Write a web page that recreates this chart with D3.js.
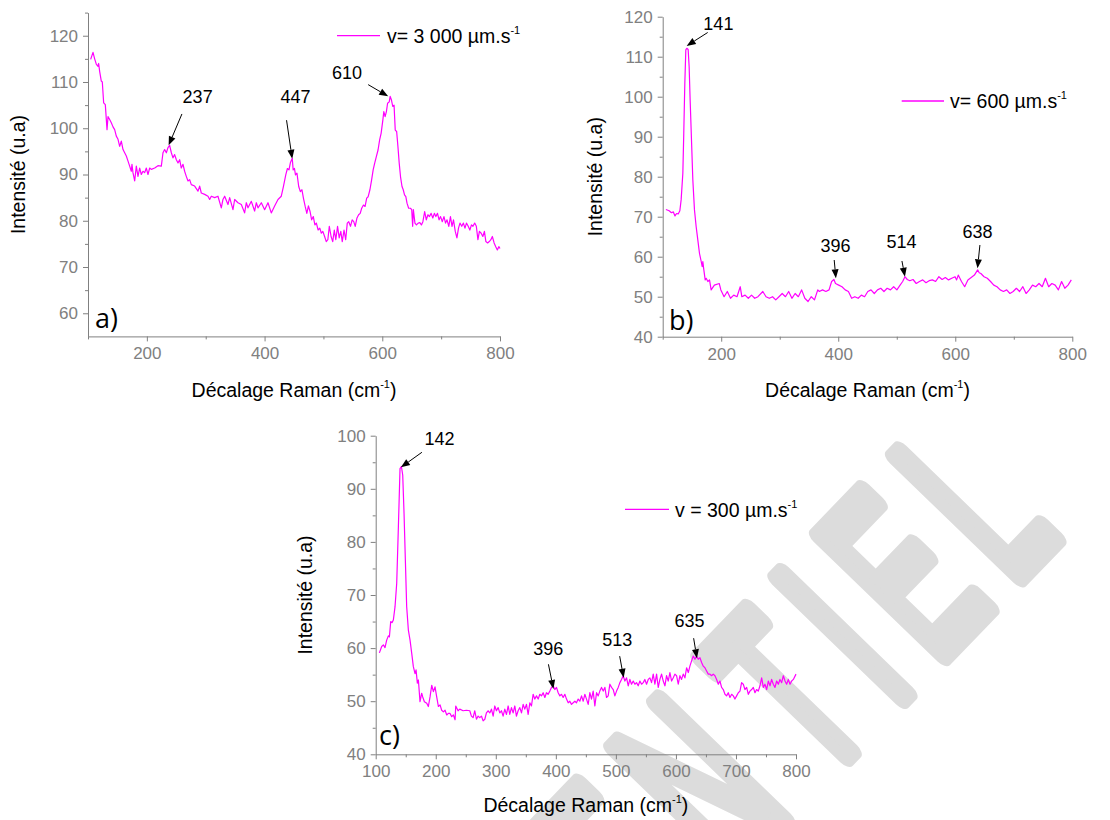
<!DOCTYPE html>
<html><head><meta charset="utf-8">
<script src="https://cdn.jsdelivr.net/npm/d3@7"></script>
<style>
body{margin:0;background:#fff;}
svg{display:block;font-family:"Liberation Sans",Arial,sans-serif;}
</style></head><body>
<svg id="chart" width="1110" height="820"></svg>
<script>
// ---------------- DATA ----------------
// Panel a) v = 3 000 µm/s
const shiftA = [104.5,108.5,111.3,114.2,117.0,118.1,119.8,122.6,124.3,126.6,
129.4,132.3,134.0,136.8,139.6,142.5,145.3,148.1,151.0,153.8,
156.6,159.5,162.3,165.1,168.0,170.8,173.6,174.7,176.4,179.3,
182.1,184.9,187.8,190.6,193.4,196.3,199.1,201.9,204.8,207.6,
213.3,218.9,224.6,227.4,230.2,233.1,235.9,238.7,241.6,244.4,
247.2,250.1,252.9,255.7,258.5,261.4,264.2,267.0,269.9,272.7,
275.5,281.2,286.9,289.7,292.5,298.2,303.9,306.7,309.5,315.2,
320.8,326.5,329.3,332.2,337.8,340.7,346.3,349.2,354.8,360.5,
366.1,369.0,371.8,377.5,383.1,386.0,388.8,394.5,400.1,405.8,
411.4,417.1,422.8,428.4,
432.0,436.0,438.8,441.5,444.0,447.0,448.6,450.8,452.5,455.0,
458.0,460.8,463.5,466.0,469.0,471.8,474.5,477.3,480.0,482.8,
485.5,488.0,491.0,493.8,496.5,499.0,502.0,504.8,507.5,510.0,
513.0,515.8,518.5,521.0,524.0,526.8,529.5,532.0,535.0,537.8,
540.5,543.0,546.0,548.8,551.5,554.0,557.0,559.8,562.5,565.0,
568.0,570.8,573.5,576.0,579.0,581.8,584.5,587.0,590.0,592.8,
595.5,598.0,601.0,602.6,604.8,607.0,609.0,611.8,613.4,615.6,
617.8,620.0,622.0,624.4,626.6,628.8,631.0,633.5,635.6,637.8,
640.0,642.0,644.8,647.8,650.0,651.6,652.8,655.5,658.0,661.0,
663.8,666.5,669.0,672.0,674.8,677.5,680.0,683.0,685.8,688.5,
691.0,693.8,696.5,699.0,702.0,704.8,707.5,710.0,713.0,715.8,
718.5,721.0,724.0,726.8,729.5,732.0,735.0,737.8,740.5,743.0,
746.0,748.8,751.5,754.0,757.0,759.8,762.5,765.0,768.0,770.8,
773.5,776.0,779.0,781.8,784.5,787.0,790.0,792.8,795.5,798.0,
800.0];
const intensityA = [114.9,116.4,115.0,113.8,113.4,114.0,112.3,110.2,110.0,105.5,
105.1,99.7,102.5,101.9,101.2,100.3,99.7,98.3,97.6,96.1,
97.2,95.4,94.7,94.0,92.9,91.8,90.7,92.2,90.4,88.6,
91.8,89.6,91.4,90.0,90.7,90.4,91.4,90.0,91.4,91.1,
91.4,91.9,91.8,94.7,95.4,94.7,95.8,96.3,94.7,93.6,
94.3,93.2,92.5,93.2,91.4,92.2,90.7,89.6,88.6,88.9,
87.8,87.5,86.4,87.5,86.0,85.7,85.3,84.6,85.3,85.0,
85.3,82.8,84.6,85.3,83.5,85.0,82.4,84.6,83.9,83.5,
81.7,83.9,82.8,84.2,82.1,83.9,82.8,83.9,82.4,83.9,
81.7,83.2,84.6,85.3,
87.4,89.9,91.3,91.0,92.6,93.5,91.0,91.3,89.9,90.3,
87.4,86.3,86.7,84.9,83.1,81.6,83.2,82.0,80.2,80.9,
79.1,79.5,78.0,78.4,77.3,77.7,76.6,75.5,75.9,78.8,
76.6,75.5,78.0,75.9,78.8,76.3,77.7,75.5,78.0,75.9,
79.5,79.8,78.8,80.2,79.8,78.8,80.6,81.3,81.6,82.7,
83.4,83.1,84.9,85.2,86.7,88.8,91.0,92.4,93.9,95.3,
97.5,98.9,101.8,103.6,102.5,103.6,105.4,105.7,106.9,106.1,
104.7,105.0,99.6,99.3,96.0,92.4,89.5,87.4,86.7,85.6,
85.2,83.8,82.7,82.7,82.4,78.8,82.4,79.5,79.1,79.5,
79.6,79.1,79.8,82.0,80.2,81.3,80.9,81.6,80.6,81.6,
80.9,81.6,80.2,80.9,79.8,80.9,79.5,80.2,78.8,80.9,
78.8,80.2,77.7,76.3,78.4,79.5,78.8,79.5,78.4,79.5,
78.8,78.0,79.1,78.8,79.5,78.8,75.9,77.7,77.3,76.6,
77.7,75.5,75.2,75.5,75.9,76.6,75.2,74.4,73.7,74.4,
74.0];

// Panel b) v = 600 µm/s
const shiftB = [105.5,111.0,114.9,118.2,121.0,123.7,126.5,129.3,131.5,134.4,
136.0,137.8,139.5,141.2,143.5,145.2,146.9,149.2,151.5,154.3,
157.2,160.0,162.9,165.8,167.5,168.6,170.3,172.6,174.3,177.2,
180.0,182.8,188.3,196.6,199.4,204.9,210.4,215.9,221.4,227.0,
232.5,235.2,240.8,246.3,251.8,257.3,262.8,271.1,276.6,282.2,
287.7,293.2,298.7,304.2,309.8,315.3,320.8,326.3,331.8,337.4,
342.9,348.4,353.9,359.4,365.0,367.7,373.2,378.8,384.3,388.7,
392.6,395.3,400.8,406.4,411.9,417.4,422.9,428.4,434.0,439.5,
445.0,450.5,456.0,461.6,467.1,472.6,478.1,483.6,489.2,494.7,
500.2,505.7,510.1,514.0,517.9,522.3,527.8,533.3,538.8,544.4,
549.9,555.4,560.9,566.4,572.0,577.5,583.0,588.5,594.0,599.6,
602.3,605.1,610.6,616.1,621.6,627.2,632.7,638.2,640.9,643.7,
649.2,654.7,660.3,665.8,671.3,676.8,682.3,687.9,693.4,698.9,
704.4,709.9,715.5,721.0,726.5,732.0,737.5,743.1,748.6,754.1,
759.6,765.1,770.7,776.2,781.7,787.2,792.7,798.3];
const intensityB = [71.8,71.5,71.0,71.2,70.2,70.8,70.7,71.5,74.2,80.8,
90.8,103.3,111.7,112.1,111.8,107.5,99.2,89.2,79.2,71.7,
67.5,64.2,60.8,58.8,57.5,58.8,56.7,54.2,54.6,53.8,
54.2,51.7,52.9,53.3,51.7,50.0,51.3,49.6,50.4,50.0,
52.5,50.0,50.4,49.6,50.4,49.6,50.0,51.3,50.0,49.6,
50.0,49.2,50.0,50.8,50.0,51.3,49.6,50.8,50.0,51.7,
49.6,48.8,50.0,49.2,51.7,51.3,51.7,51.3,51.7,53.8,
54.3,53.3,52.9,52.5,51.7,51.3,49.6,50.0,49.6,50.4,
50.0,51.3,51.7,50.8,51.7,52.1,51.3,52.1,51.7,52.5,
51.7,52.9,53.8,55.0,54.3,54.0,54.3,53.3,53.8,54.2,
53.5,54.0,54.2,53.8,55.0,54.3,54.8,54.2,54.6,55.0,
54.2,55.4,53.8,52.5,54.2,54.8,55.4,56.7,56.0,55.8,
55.0,54.6,53.8,52.9,52.5,51.7,51.3,51.7,50.8,51.3,
52.1,51.3,52.5,50.8,51.7,52.9,52.5,53.3,52.5,54.6,
52.5,53.3,52.9,51.7,53.8,52.1,52.9,54.2];

// Panel c) v = 300 µm/s
const shiftC = [106.1,110.0,112.8,115.5,118.3,121.1,122.8,125.0,127.2,129.4,
132.2,135.0,137.8,140.5,142.8,145.0,147.2,149.4,151.6,154.4,
157.2,160.0,162.7,165.5,167.2,169.4,171.1,173.8,176.6,178.3,
181.1,185.0,187.7,190.5,193.3,196.1,198.8,201.6,204.4,207.2,
209.9,212.7,215.5,218.3,221.0,223.8,226.6,229.4,232.2,233.3,
237.2,240.0,245.6,251.1,256.7,259.4,262.2,265.0,267.8,270.6,
273.3,276.1,278.9,281.7,284.4,287.2,290.0,292.8,295.6,298.3,
301.1,303.9,306.7,309.4,312.2,315.0,317.8,320.6,323.3,326.1,
328.9,331.7,334.4,337.2,340.0,342.8,345.6,348.3,351.1,353.9,
356.7,359.4,362.2,365.0,367.8,370.6,373.3,376.1,378.9,381.7,
384.4,387.2,390.0,392.8,395.6,398.3,401.1,403.9,406.7,409.4,
412.2,415.0,417.8,420.6,423.3,426.1,428.9,431.7,434.4,437.2,
440.0,442.8,445.6,448.3,451.1,453.9,456.7,459.4,462.2,465.0,
467.8,470.6,473.3,476.1,478.9,481.7,484.4,487.2,490.0,492.8,
495.6,498.3,501.1,503.9,506.7,509.4,512.2,515.0,517.8,520.6,
523.3,526.1,528.9,531.7,534.4,537.2,540.0,542.8,545.6,548.3,
551.1,553.9,556.7,559.4,562.2,565.0,567.8,570.6,573.3,576.1,
578.9,581.7,584.4,587.2,590.0,592.8,595.6,598.3,601.1,603.9,
606.7,609.4,612.2,615.0,617.8,620.6,623.3,626.1,628.9,631.7,
634.4,637.2,640.0,642.8,645.6,648.3,651.1,653.9,656.7,659.4,
662.2,665.0,667.8,670.6,673.3,676.1,678.9,681.7,684.4,687.2,
690.0,692.8,695.6,698.3,701.1,703.9,706.7,709.4,712.2,715.0,
717.8,720.6,723.3,726.1,728.9,731.7,734.4,737.2,740.0,742.8,
745.6,748.3,751.1,753.9,756.7,759.4,762.2,765.0,767.8,770.6,
773.3,776.1,778.9,781.7,784.4,787.2,790.0,792.8,795.6,800.0];
const intensityC = [59.1,60.3,60.6,60.1,61.5,62.3,62.1,65.0,64.8,65.3,
67.8,72.2,82.9,93.8,94.2,92.6,85.4,76.6,67.8,63.4,
61.5,59.0,56.5,55.2,55.9,53.4,54.0,49.9,51.5,50.8,
49.9,49.6,49.0,50.8,53.0,51.8,52.7,50.8,49.0,49.3,
48.3,48.0,48.3,47.4,47.7,47.7,47.1,47.4,46.5,49.1,
48.2,48.5,48.2,48.3,48.2,47.2,46.9,48.2,46.6,47.2,
46.9,47.2,46.3,46.6,47.8,48.2,47.8,48.5,47.2,49.1,
48.2,48.8,47.8,48.2,47.2,48.5,47.5,49.1,47.5,48.8,
47.8,49.1,47.2,48.2,48.8,47.8,49.4,48.5,49.4,47.5,
49.7,49.1,51.3,50.4,51.0,50.4,51.3,51.0,51.6,50.7,
51.6,51.3,51.9,52.6,52.9,52.2,52.6,51.6,51.0,51.3,
50.7,51.3,50.4,49.7,50.0,49.4,49.7,50.0,49.7,50.4,
50.0,51.0,50.0,51.3,50.4,49.4,51.6,50.4,51.9,49.1,
51.6,51.0,51.9,52.6,51.9,52.6,50.7,51.0,53.2,52.6,
52.2,51.0,51.9,52.6,53.5,54.1,54.8,53.8,54.4,52.9,
54.1,53.2,53.8,53.2,53.5,52.9,53.8,53.2,53.5,54.1,
53.2,54.1,54.4,53.5,55.1,53.2,55.1,52.6,54.1,55.1,
53.8,52.9,54.8,53.8,55.4,53.8,54.4,55.1,54.8,53.2,
54.8,54.1,55.1,54.4,56.3,55.4,56.6,57.6,58.5,57.9,
58.5,57.9,58.2,57.3,56.6,56.3,55.7,55.1,55.1,54.8,
55.1,54.8,54.1,53.2,53.8,52.6,52.2,51.3,51.0,51.6,
50.7,51.3,51.0,50.4,51.0,51.6,51.9,53.5,53.2,52.2,
52.6,51.3,51.9,52.2,52.6,51.6,52.2,51.9,52.9,54.4,
52.6,53.2,52.2,53.8,52.9,54.1,53.2,52.6,53.8,53.2,
54.1,53.5,54.8,53.8,53.2,54.1,53.2,53.8,54.1,55.1];

// Tick labels
const xTicksAB = [200, 400, 600, 800];
const xMinorAB = [100, 300, 500, 700];
const xTicksC = [100, 200, 300, 400, 500, 600, 700, 800];
const xMinorC = [150, 250, 350, 450, 550, 650, 750];
const yTicksA = [60, 70, 80, 90, 100, 110, 120];
const yMinorA = [65, 75, 85, 95, 105, 115, 125];
const yTicksB = [40, 50, 60, 70, 80, 90, 100, 110, 120];
const yMinorB = [45, 55, 65, 75, 85, 95, 105, 115];
const yTicksC = [40, 50, 60, 70, 80, 90, 100];
const yMinorC = [45, 55, 65, 75, 85, 95];

// Peak annotations (Raman shift, intensity at arrow tip)
const peaksA = [237, 447, 610];
const peakIntA = [96.3, 93.4, 106.9];
const peaksB = [141, 396, 514, 638];
const peakIntB = [112.7, 54.6, 55.0, 57.1];
const peaksC = [142, 396, 513, 635];
const peakIntC = [94.05, 52.3, 54.4, 58.1];

// Legend labels
const legendA = "v= 3 000 µm.s";
const legendB = "v= 600 µm.s";
const legendC = "v = 300 µm.s";
const panelLetters = ["a)", "b)", "c)"];
const xTitle = "Décalage Raman (cm";
const yTitle = "Intensité (u.a)";
const watermark = "CONFIDENTIEL";

// ---------------- LAYOUT ----------------
const COLOR = "#ff00ff";
const AXIS = "#808080";
const panels = [
  {shift: shiftA, inten: intensityA, xDom: [100, 800], yDom: [55, 125],
   box: {l: 88, r: 500, t: 12.6, b: 336.4},
   xT: xTicksAB, xM: xMinorAB, yT: yTicksA, yM: yMinorA,
   peaks: peaksA, peakInt: peakIntA,
   ann: [{tail: [13.3, -31.4], lab: [29, -42.4]}, {tail: [-5.7, -38.6], lab: [3.2, -56]}, {tail: [-20, -11.7], lab: [-41.1, -17.4]}],
   legend: legendA, leg: {x1: 337, x2: 380, y: 35.7, tx: 387, ty: 42.5},
   letter: panelLetters[0], letterPos: [95, 328],
   xTitleY: 397, yTitleX: 25},
  {shift: shiftB, inten: intensityB, xDom: [100, 800], yDom: [40, 120],
   box: {l: 662.7, r: 1072.3, t: 16.7, b: 336.7},
   xT: xTicksAB, xM: xMinorAB, yT: yTicksB, yM: yMinorB,
   peaks: peaksB, peakInt: peakIntB,
   ann: [{tail: [21, -13.4], lab: [31.7, -16.4]}, {tail: [-1.7, -18.3], lab: [-0.3, -26.6]}, {tail: [-3, -15.7], lab: [-3.5, -28.4]}, {tail: [2.4, -23.3], lab: [0, -30]}],
   legend: legendB, leg: {x1: 901.7, x2: 944, y: 101, tx: 950, ty: 108},
   letter: panelLetters[1], letterPos: [669, 330],
   xTitleY: 397, yTitleX: 602},
  {shift: shiftC, inten: intensityC, xDom: [100, 800], yDom: [40, 100],
   box: {l: 375.7, r: 796, t: 435.7, b: 754.3},
   xT: xTicksC, xM: xMinorC, yT: yTicksC, yM: yMinorC,
   peaks: peaksC, peakInt: peakIntC,
   ann: [{tail: [21, -15], lab: [38.6, -22.3]}, {tail: [-5, -24.7], lab: [-5.1, -34]}, {tail: [-4, -21.7], lab: [-6.5, -31.7]}, {tail: [-3.3, -20], lab: [-7.3, -31]}],
   legend: legendC, leg: {x1: 625, x2: 669, y: 509.3, tx: 675, ty: 516.5},
   letter: panelLetters[2], letterPos: [379, 745],
   xTitleY: 812, yTitleX: 312}
];

const svg = d3.select("#chart");
svg.append("rect").attr("width", 1110).attr("height", 820).attr("fill", "#fff");

// ---------------- WATERMARK ----------------
const wmScale = 0.52;
const wmOrigins = [-1181, -1062, -936, -817, -713, -652, -533, -421, -288, -186, -125, -15.6];
svg.append("text")
  .attr("transform", "translate(1021,575) rotate(-46) scale(" + wmScale + ",1)")
  .attr("x", wmOrigins.map(s => (s / wmScale).toFixed(1)).join(" "))
  .attr("y", 0)
  .style("font-family", "'Liberation Sans', Arial, sans-serif")
  .style("font-size", "250px")
  .attr("fill", "#dcdcdc")
  .attr("stroke", "#dcdcdc")
  .attr("stroke-width", 18)
  .attr("stroke-linejoin", "round")
  .attr("stroke-linecap", "round")
  .attr("vector-effect", "non-scaling-stroke")
  .text(watermark);

// ---------------- PANELS ----------------
panels.forEach(p => {
  const x = d3.scaleLinear().domain(p.xDom).range([p.box.l, p.box.r]);
  const y = d3.scaleLinear().domain(p.yDom).range([p.box.b, p.box.t]);
  const g = svg.append("g");

  // axes
  g.append("g").attr("transform", `translate(${p.box.l},0)`)
    .call(d3.axisLeft(y).tickValues(p.yT).tickSize(5).tickSizeOuter(0).tickPadding(5).tickFormat(d3.format("d")));
  const yMin = g.append("g").attr("transform", `translate(${p.box.l},0)`)
    .call(d3.axisLeft(y).tickValues(p.yM).tickSize(3).tickFormat(""));
  yMin.select(".domain").remove();
  g.append("g").attr("transform", `translate(0,${p.box.b})`)
    .call(d3.axisBottom(x).tickValues(p.xT).tickSize(5).tickSizeOuter(0).tickPadding(6).tickFormat(d3.format("d")));
  const xMin = g.append("g").attr("transform", `translate(0,${p.box.b})`)
    .call(d3.axisBottom(x).tickValues(p.xM).tickSize(3).tickFormat(""));
  xMin.select(".domain").remove();
  g.selectAll(".domain, .tick line").attr("stroke", AXIS).attr("stroke-width", 1);
  g.selectAll(".tick text").attr("fill", AXIS)
    .style("font-size", "17px").style("font-family", "'Liberation Sans', Arial, sans-serif");

  // spectrum
  const data = d3.zip(p.shift, p.inten);
  g.append("path").datum(data)
    .attr("fill", "none").attr("stroke", COLOR).attr("stroke-width", 1.2)
    .attr("stroke-linejoin", "round")
    .attr("d", d3.line().x(d => x(d[0])).y(d => y(d[1])));

  // annotations
  p.peaks.forEach((pk, i) => {
    const tx = x(pk), ty = y(p.peakInt[i]);
    const a = p.ann[i];
    const sx = tx + a.tail[0], sy = ty + a.tail[1];
    const dx = tx - sx, dy = ty - sy, len = Math.hypot(dx, dy);
    const ux = dx / len, uy = dy / len;
    const hl = 9, hw = 3.5;
    const bx = tx - ux * hl, by = ty - uy * hl;
    g.append("line").attr("x1", sx).attr("y1", sy).attr("x2", bx).attr("y2", by)
      .attr("stroke", "#000").attr("stroke-width", 1);
    g.append("path")
      .attr("d", `M${tx},${ty}L${bx - uy * hw},${by + ux * hw}L${bx + uy * hw},${by - ux * hw}Z`)
      .attr("fill", "#000");
    g.append("text").attr("x", tx + a.lab[0]).attr("y", ty + a.lab[1])
      .attr("text-anchor", "middle").style("font-size", "18px").attr("fill", "#000")
      .text(pk);
  });

  // legend
  g.append("line").attr("x1", p.leg.x1).attr("x2", p.leg.x2).attr("y1", p.leg.y).attr("y2", p.leg.y)
    .attr("stroke", COLOR).attr("stroke-width", 1.3);
  const lt = g.append("text").attr("x", p.leg.tx).attr("y", p.leg.ty)
    .style("font-size", "19.5px").attr("fill", "#000");
  lt.append("tspan").text(p.legend);
  lt.append("tspan").attr("dy", -9).style("font-size", "11px").text("-1");

  // panel letter
  g.append("text").attr("x", p.letterPos[0]).attr("y", p.letterPos[1])
    .style("font-family", "'Open Sans', 'Noto Sans', sans-serif").style("font-size", "27px")
    .attr("fill", "#000").text(p.letter);

  // axis titles
  const xt = g.append("text").attr("x", (p.box.l + p.box.r) / 2).attr("y", p.xTitleY)
    .attr("text-anchor", "middle").style("font-size", "19.5px").attr("fill", "#000");
  xt.append("tspan").text(xTitle);
  xt.append("tspan").attr("dy", -9).style("font-size", "11px").text("-1");
  xt.append("tspan").attr("dy", 9).text(")");

  g.append("text")
    .attr("transform", `translate(${p.yTitleX},${(p.box.t + p.box.b) / 2}) rotate(-90)`)
    .attr("text-anchor", "middle").style("font-size", "19.5px").attr("fill", "#000")
    .text(yTitle);
});
</script>
</body></html>
